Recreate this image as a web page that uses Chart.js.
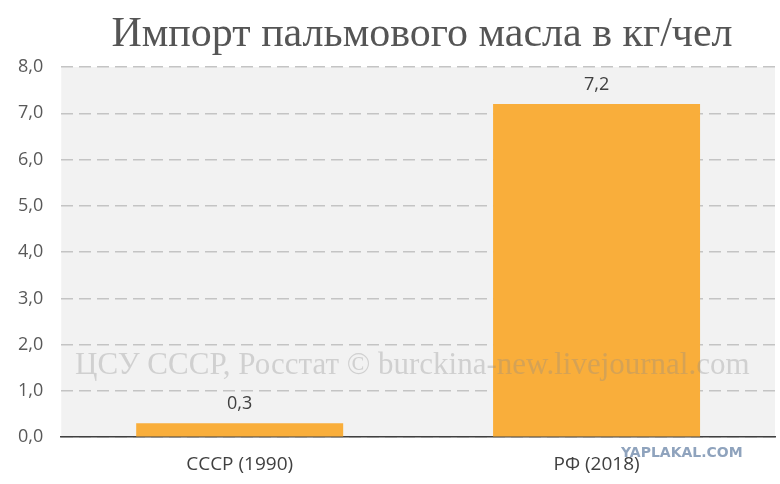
<!DOCTYPE html>
<html>
<head>
<meta charset="utf-8">
<script src="https://cdn.jsdelivr.net/npm/chart.js@4"></script>
<style>
  html, body { margin: 0; padding: 0; background: #fff; }
  #wrap { width: 780px; height: 484px; }
</style>
</head>
<body>
<div id="wrap"><canvas id="c" width="780" height="484"></canvas></div>
<script>
const categories = ['СССР (1990)', 'РФ (2018)'];
const values = [0.3, 7.2];
const yTicks = [0, 1, 2, 3, 4, 5, 6, 7, 8];
const titleText = 'Импорт пальмового масла в кг/чел';
const sourceText = 'ЦСУ СССР, Росстат © burckina-new.livejournal.com';

const fmt = v => v.toFixed(1).replace('.', ',');

// background of plot area, title, watermarks, value labels
const decor = {
  id: 'decor',
  beforeDraw(chart) {
    const { ctx, chartArea: a } = chart;
    ctx.save();
    ctx.fillStyle = '#f2f2f2';
    ctx.fillRect(a.left, a.top, a.right - a.left, a.bottom - a.top);
    ctx.restore();
  },
  afterDatasetsDraw(chart) {
    const { ctx } = chart;
    const meta = chart.getDatasetMeta(0);
    ctx.save();
    ctx.fillStyle = '#404040';
    ctx.font = '18px "Open Sans"';
    ctx.textAlign = 'center';
    ctx.textBaseline = 'bottom';
    meta.data.forEach((bar, i) => {
      ctx.fillText(fmt(values[i]), bar.x, bar.y - 10);
    });
    ctx.fillStyle = 'rgba(140,140,140,0.33)';
    ctx.font = '31px "Liberation Serif"';
    ctx.textAlign = 'left';
    ctx.textBaseline = 'middle';
    ctx.fillText(sourceText, 75, 366);
    ctx.fillStyle = '#555555';
    ctx.font = '42px "Liberation Serif"';
    ctx.textAlign = 'center';
    ctx.fillText(titleText, 422, 35);
    ctx.fillStyle = '#8fa3bd';
    ctx.font = 'bold 14px "DejaVu Sans"';
    ctx.textAlign = 'left';
    ctx.fillText('YAPLAKAL.COM', 621, 453);
    ctx.restore();
  }
};

new Chart(document.getElementById('c'), {
  type: 'bar',
  data: {
    labels: categories,
    datasets: [{
      data: values,
      backgroundColor: '#f9ae3b',
      borderWidth: 0,
      categoryPercentage: 1,
      barPercentage: 0.58
    }]
  },
  options: {
    responsive: false,
    animation: false,
    layout: { padding: { top: 67, right: 5, left: 0, bottom: 0 } },
    plugins: { legend: { display: false }, tooltip: { enabled: false } },
    scales: {
      x: {
        grid: { display: false },
        border: { color: '#404040', width: 1.5 },
        ticks: { color: '#404040', font: { family: 'Open Sans', size: 19 }, padding: 8 }
      },
      y: {
        min: 0, max: 8,
        afterBuildTicks: axis => { axis.ticks = yTicks.map(v => ({ value: v })); },
        border: { display: false, dash: [12, 6] },
        grid: { color: '#c4c4c4', lineWidth: 1.5, drawTicks: false },
        ticks: { color: '#595959', font: { family: 'Open Sans', size: 18 }, padding: 18, callback: v => fmt(v) }
      }
    }
  },
  plugins: [decor]
});
</script>
</body>
</html>
